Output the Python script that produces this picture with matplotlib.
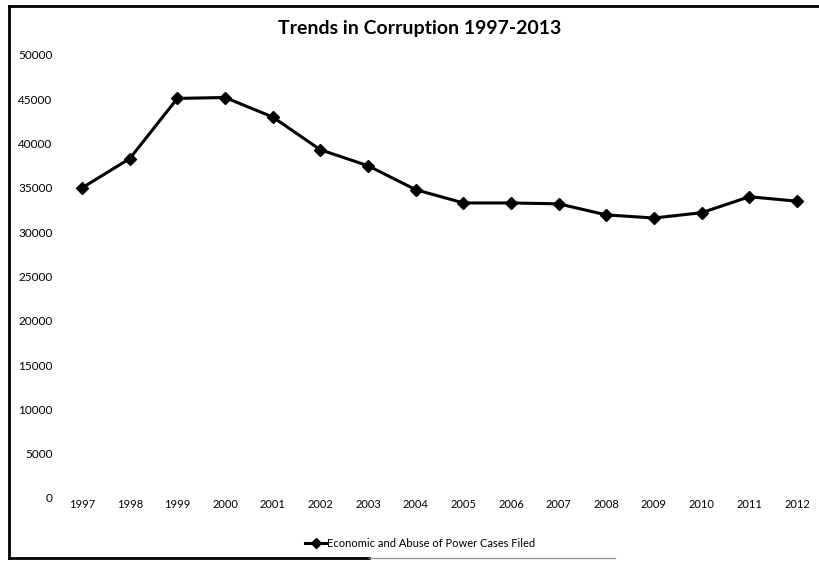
import matplotlib
matplotlib.use("Agg")
import matplotlib.pyplot as plt
from matplotlib.lines import Line2D

plt.rcParams['font.family'] = ['Lato', 'DejaVu Sans']

# data
years = ['1997', '1998', '1999', '2000', '2001', '2002', '2003', '2004',
         '2005', '2006', '2007', '2008', '2009', '2010', '2011', '2012']
cases = [35000, 38300, 45100, 45200, 43000, 39300, 37500, 34800,
         33300, 33300, 33200, 31950, 31600, 32200, 34000, 33500]
yticks = list(range(0, 50001, 5000))

fig = plt.figure(figsize=(8.2, 5.61), dpi=100)
ax = fig.add_axes([0.071, 0.1123, 0.930, 0.7897])

x = list(range(len(years)))
ax.plot(x, cases, color='black', linewidth=2.2, marker='D', markersize=6,
        label='Economic and Abuse of Power Cases Filed')

ax.set_xlim(-0.5, len(years) - 0.5)
ax.set_ylim(0, 50000)
ax.set_xticks(x)
ax.set_xticklabels(years, fontsize=8)
ax.set_yticks(yticks)
ax.set_yticklabels([str(v) for v in yticks], fontsize=8.5)
ax.tick_params(axis='x', length=0, pad=1)
ax.tick_params(axis='y', length=0, pad=4)
for s in ax.spines.values():
    s.set_visible(False)

fig.text(0.512, 0.95, 'Trends in Corruption 1997-2013', ha='center', va='center',
         fontsize=14, fontweight='bold')

fig.legend(loc='center', bbox_to_anchor=(0.512, 0.032), frameon=False,
           fontsize=8, handlelength=2.0, handletextpad=0.0, markerscale=0.8)

# outer frame of the chart
fig.add_artist(Line2D([0.011, 0.011], [0.005, 0.99], transform=fig.transFigure,
                      color='black', linewidth=2))
fig.add_artist(Line2D([0.011, 1.0], [0.99, 0.99], transform=fig.transFigure,
                      color='black', linewidth=2))
fig.add_artist(Line2D([0.011, 0.45], [0.006, 0.006], transform=fig.transFigure,
                      color='black', linewidth=2))
fig.add_artist(Line2D([0.45, 0.75], [0.006, 0.006], transform=fig.transFigure,
                      color='#999999', linewidth=1))

fig.savefig('out.png', dpi=100)
